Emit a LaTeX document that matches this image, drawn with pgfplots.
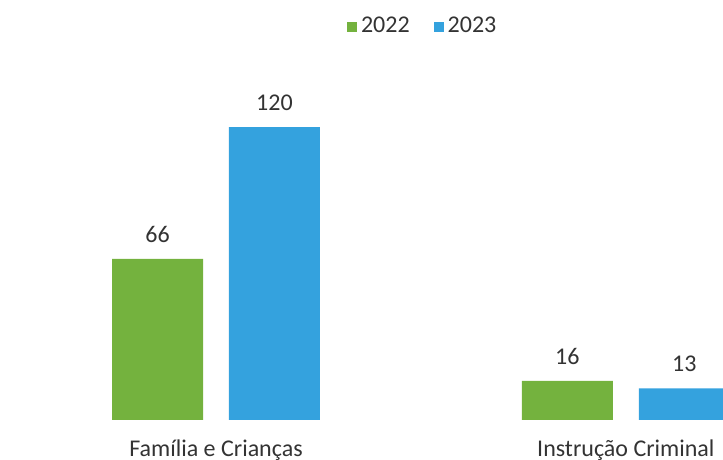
\documentclass[border=0pt]{standalone}
\usepackage{fontspec}
\setmainfont{Carlito}
\usepackage{pgfplots}
\pgfplotsset{compat=1.18}

\definecolor{g22}{RGB}{116,178,62}
\definecolor{b23}{RGB}{52,162,222}

\begin{document}
\fontsize{12}{14}\selectfont
\begin{tikzpicture}
  \begin{axis}[
    scale only axis,
    width=361.5pt, height=230pt,
    xmin=-0.527, xmax=1.237,
    ymin=-16.4, ymax=172.1,
    ybar, bar width=0.222,
    /pgf/number format/assume math mode=true,
    axis line style={draw=none},
    ytick=\empty,
    xtick={0,1},
    xticklabels={Família e Crianças, Instrução Criminal},
    major tick length=0pt,
    xticklabel style={anchor=base, yshift=1.5pt, font=\fontsize{12}{14}\selectfont, text=black!80},
    nodes near coords,
    every node near coord/.append style={yshift=4pt, font=\fontsize{12}{14}\selectfont, text=black!80},
    legend style={at={(0.586,0.942)}, anchor=center, draw=none, fill=none,
      legend columns=-1, font=\fontsize{12}{14}\selectfont, text=black!80,
      /tikz/every even column/.append style={column sep=10pt}},
    legend image code/.code={\fill[#1] (0pt,-2.5pt) rectangle (5pt,2.5pt);},
  ]
  \addplot[fill=g22, draw=none, bar shift=-0.1427] coordinates {(0,66) (1,16)};
  \addplot[fill=b23, draw=none, bar shift=0.1427] coordinates {(0,120) (1,13)};
  \legend{2022, 2023}
  \end{axis}
  \pgfresetboundingbox
  \useasboundingbox (current axis.south west) rectangle (current axis.north east);
\end{tikzpicture}
\end{document}
